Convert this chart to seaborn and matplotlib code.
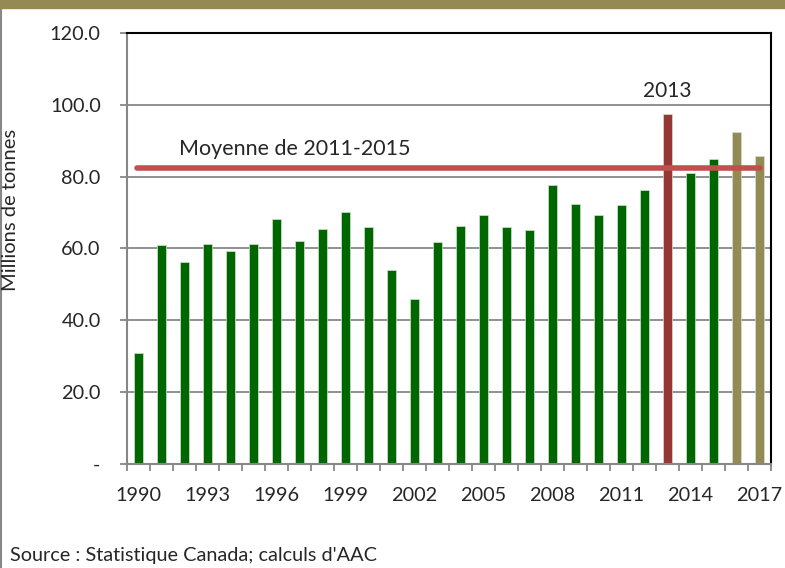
import matplotlib
matplotlib.use("Agg")
import matplotlib.pyplot as plt
import seaborn as sns
import pandas as pd
import numpy as np
from matplotlib.patches import Rectangle
from matplotlib.lines import Line2D

years = [str(y) for y in range(1990, 2018)]
values = [30.8, 61.0, 56.3, 61.3, 59.4, 61.3, 68.2, 62.1, 65.5, 70.2,
          66.0, 54.1, 45.8, 61.9, 66.3, 69.2, 65.9, 65.2, 77.8, 72.5,
          69.2, 72.0, 76.4, 97.4, 81.0, 85.0, 92.5, 85.8]
groups = ["normal"] * 23 + ["2013"] + ["normal"] * 2 + ["prevision"] * 2
tick_years = [y for y in years if (int(y) - 1990) % 3 == 0]
y_ticks = [0, 20, 40, 60, 80, 100, 120]
y_tick_labels = ["-", "20.0", "40.0", "60.0", "80.0", "100.0", "120.0"]
mean_years = ["2011", "2012", "2013", "2014", "2015"]

GREEN = "#006600"
RED = "#953735"
OLIVE = "#948A54"
palette = {"normal": GREEN, "2013": RED, "prevision": OLIVE}

df = pd.DataFrame({"year": years, "value": values, "group": groups})

sns.set_style("white")
plt.rcParams["font.family"] = ["Lato", "DejaVu Sans"]

fig = plt.figure(figsize=(7.85, 5.68), dpi=100)
ax = fig.add_axes([127 / 785, 1 - 463.5 / 568, (771 - 127) / 785, (463.5 - 33.3) / 568])

sns.barplot(data=df, x="year", y="value", hue="group", palette=palette,
            dodge=False, width=0.4, legend=False, ax=ax, saturation=1,
            edgecolor="#CFE3CF", linewidth=0.5)

ax.set_xlim(-0.5, len(years) - 0.5)
ax.set_ylim(0, 120)

# gridlines
for v in y_ticks[1:-1]:
    ax.axhline(v, color="#878787", lw=1.3, zorder=0)

# mean line
mean_val = float(np.mean([values[years.index(y)] for y in mean_years]))
ax.plot([-0.07, 27.02], [mean_val, mean_val], color="#C0504D", lw=4,
        solid_capstyle="round", zorder=5)
ax.text(6.8, 87.8, "Moyenne de 2011-2015", ha="center", va="center", fontsize=15.5)
ax.text(years.index("2013"), 104.0, "2013", ha="center", va="center", fontsize=15)

# spines
ax.spines["top"].set_color("black")
ax.spines["top"].set_linewidth(1.5)
ax.spines["right"].set_color("black")
ax.spines["right"].set_linewidth(1.5)
ax.spines["left"].set_color("#878787")
ax.spines["left"].set_linewidth(1.5)
ax.spines["bottom"].set_color("#878787")
ax.spines["bottom"].set_linewidth(1.5)

ax.set_yticks(y_ticks)
ax.set_yticklabels(y_tick_labels)
ax.tick_params(axis="y", length=5, width=1.3, color="#878787", pad=14, labelsize=14.3, left=True)

ax.set_xticks([years.index(y) for y in tick_years])
ax.set_xticklabels(tick_years)
ax.set_xticks(np.arange(-0.5, len(years)), minor=True)
ax.tick_params(axis="x", which="major", length=0, pad=17, labelsize=14.3)
ax.tick_params(axis="x", which="minor", length=5, width=1.3, color="#878787", bottom=True)

ax.set_xlabel("")
ax.set_ylabel("")

fig.text(11 / 785, 1 - 210 / 568, "Millions de tonnes", rotation=90,
         ha="center", va="center", fontsize=14.5)
fig.text(10 / 785, 1 - 556 / 568, "Source : Statistique Canada; calculs d'AAC",
         ha="left", va="center", fontsize=14.3)

# top band and left border
fig.patches.append(Rectangle((0, 1 - 8 / 568), 1, 8 / 568, transform=fig.transFigure,
                             color="#948A54", zorder=10))
fig.lines.append(Line2D([0.5 / 785, 0.5 / 785], [0, 1], transform=fig.transFigure,
                        color="#878787", lw=1.5))

fig.savefig("out.png", dpi=100)
